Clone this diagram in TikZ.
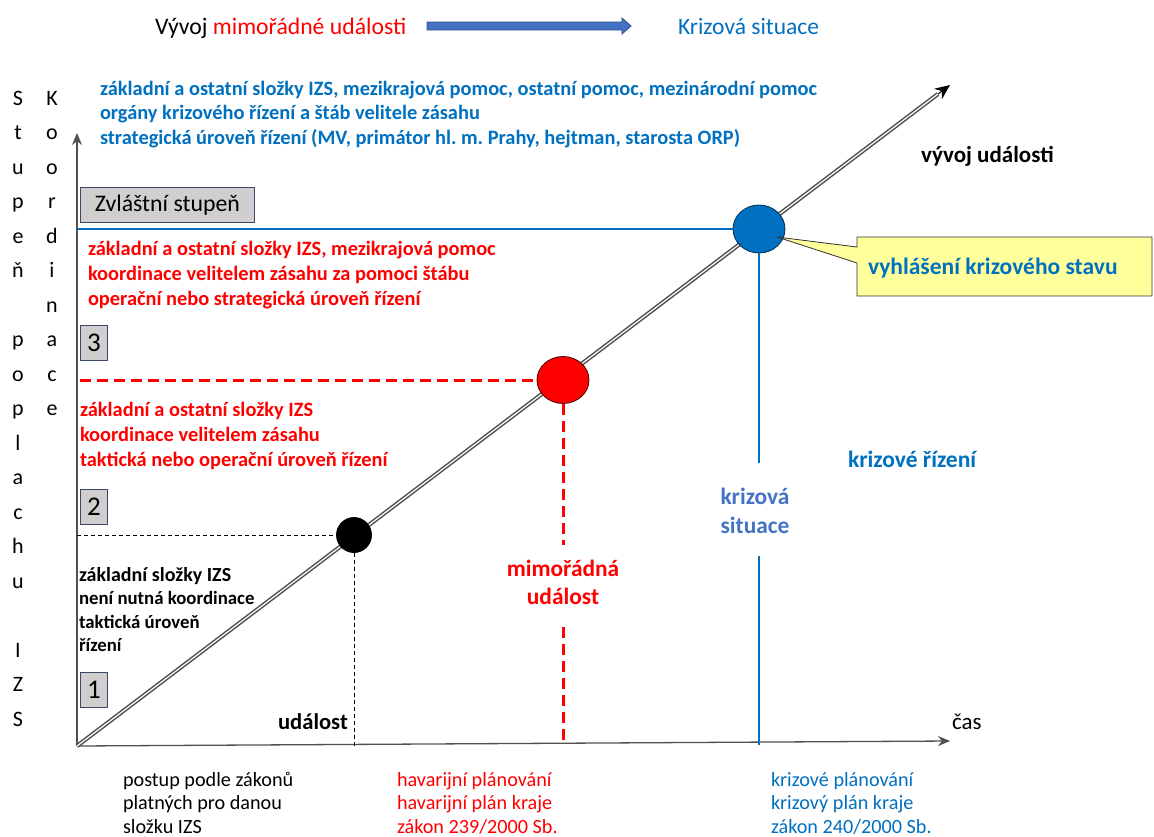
\documentclass[tikz,border=0pt]{standalone}
\usepackage{fontspec}
\setmainfont{Carlito}
\usetikzlibrary{arrows.meta,shapes.geometric}
\frenchspacing
\definecolor{msblue}{HTML}{0070C0}
\definecolor{lblue}{HTML}{4472C4}
\definecolor{msred}{HTML}{FF0000}
\definecolor{boxgray}{HTML}{D0CECE}
\definecolor{boxedge}{HTML}{3B4A6B}
\definecolor{callyellow}{HTML}{FFFF9C}
\definecolor{axisgray}{HTML}{505050}
\tikzset{
  txt/.style={anchor=base west, inner sep=0pt, outer sep=0pt},
  btxt/.style={txt, font=\fontsize{20.4}{24}\selectfont\bfseries},
  ctxt/.style={anchor=base, inner sep=0pt, outer sep=0pt},
  vlet/.style={ctxt, font=\fontsize{22}{26}\selectfont},
  reg/.style={txt, font=\fontsize{20.2}{24}\selectfont},
  lbl/.style={ctxt, font=\fontsize{23.4}{28}\selectfont\bfseries},
  lvlbox/.style={draw=boxedge, fill=boxgray, line width=0.9pt, inner sep=0pt, font=\fontsize{27}{30}\selectfont, minimum width=27pt, minimum height=35pt},
  axisline/.style={draw=axisgray, line width=1.3pt, -{Stealth[length=12pt,width=10pt]}},
  reddash/.style={draw=msred, line width=3pt, dash pattern=on 11pt off 6pt},
  blackdash/.style={draw=black, line width=1pt, dash pattern=on 4pt off 3pt},
  blueline/.style={draw=msblue, line width=2pt},
  circ/.style={ellipse, inner sep=0pt, line width=0.8pt},
}
\begin{document}
\begin{tikzpicture}[x=1pt,y=-1pt]
\useasboundingbox (0,0) rectangle (1154,836);
\fill[white] (0,0) rectangle (1154,836);

% title
\node[txt, font=\fontsize{23.7}{28}\selectfont] (title) at (155,34) {Vývoj \textcolor{msred}{mimořádné události}};
\draw[fill=lblue, draw=lblue!70!black, line width=0.8pt]
  (427,22) -- (622,22) -- (622,18) -- (631,26) -- (622,34) -- (622,30) -- (427,30) -- cycle;
\node[txt, font=\fontsize{23.5}{28}\selectfont, text=msblue] (krsit) at (678,34) {Krizová situace};

% vertical letters
\foreach \ch [count=\i from 0] in {S,t,u,p,e,ň,{},p,o,p,l,a,c,h,u,{},I,Z,S}
  \node[vlet] (s\i) at (18,105+34.5*\i) {\ch};
\foreach \ch [count=\i from 0] in {K,o,o,r,d,i,n,a,c,e}
  \node[vlet] (k\i) at (52,105+34.5*\i) {\ch};

% key coordinates
\coordinate (o) at (77,746);
\coordinate (ytop) at (77,133);
\coordinate (xend) at (950,741);
\coordinate (dtip) at (950,85);
\coordinate (dmid) at (938,94);

% blue top text
\node[btxt, text=msblue] (t1) at (100,95) {základní a ostatní složky IZS, mezikrajová pomoc, ostatní pomoc, mezinárodní pomoc};
\node[btxt, text=msblue] (t2) at (100,119.5) {orgány krizového řízení a štáb velitele zásahu};
\node[btxt, text=msblue] (t3) at (100,144) {strategická úroveň řízení (MV, primátor hl. m. Prahy, hejtman, starosta ORP)};
\node[txt, font=\fontsize{23}{27}\selectfont\bfseries] (vyv) at (921,162) {vývoj události};

% level boxes
\node[lvlbox, minimum width=174pt, anchor=north west, font=\fontsize{23.8}{28}\selectfont] (zvl) at (80,187) {Zvláštní stupeň};
\node[lvlbox, anchor=north west] (l3) at (80,325) {3};
\node[lvlbox, anchor=north west] (l2) at (80,489) {2};
\node[lvlbox, anchor=north west] (l1) at (80,672) {1};

% red texts
\node[btxt, text=msred] (r1) at (88,255) {základní a ostatní složky IZS, mezikrajová pomoc};
\node[btxt, text=msred] (r2) at (88,280) {koordinace velitelem zásahu za pomoci štábu};
\node[btxt, text=msred] (r3) at (88,305) {operační nebo strategická úroveň řízení};
\node[btxt, text=msred] (r4) at (80,416) {základní a ostatní složky IZS};
\node[btxt, text=msred] (r5) at (80,441) {koordinace velitelem zásahu};
\node[btxt, text=msred] (r6) at (80,466) {taktická nebo operační úroveň řízení};

% black texts
\node[txt, font=\fontsize{20}{24}\selectfont\bfseries] (z1) at (79,581) {základní složky IZS};
\node[txt, font=\fontsize{18.8}{22}\selectfont\bfseries] (z2) at (79,604) {není nutná koordinace};
\node[txt, font=\fontsize{18.8}{22}\selectfont\bfseries] (z3) at (79,628) {taktická úroveň};
\node[txt, font=\fontsize{18.8}{22}\selectfont\bfseries] (z4) at (79,651) {řízení};

% axes
\draw[axisline] (o) -- (ytop);
\draw[axisline] (o) -- (xend);

% diagonal double line
\draw[draw=axisgray, line width=1.5pt, double=white, double distance=1.2pt] (o) -- (dmid);
\draw[draw=black, line width=1pt, -{Stealth[length=15pt,width=13pt]}] (dmid) -- (dtip);

% circles
\node[circ, fill=black, draw=black, minimum width=35pt, minimum height=35pt] (ev) at (354,535) {};
\node[circ, fill=msred, draw=black!70!red, minimum width=52pt, minimum height=47pt] (mu) at (563,380) {};
\node[circ, fill=msblue, draw=black!60!msblue, minimum width=52pt, minimum height=48pt] (ks) at (759,229) {};

% guide lines
\coordinate (bl) at (77,229);
\coordinate (rl) at (80,380);
\coordinate (kl) at (77,535);
\coordinate (bv1) at (759,463);
\coordinate (bv2) at (759,556);
\coordinate (bv3) at (759,745);
\coordinate (rv1) at (563,545);
\coordinate (rv2) at (563,627);
\coordinate (rv3) at (563,746);
\coordinate (kv) at (354,746);

\draw[blueline] (bl) -- (ks.west);
\draw[blueline] (ks.south) -- (bv1);
\draw[blueline] (bv2) -- (bv3);
\draw[reddash] (rl) -- (mu.west);
\draw[reddash] (mu.south) -- (rv1);
\draw[reddash] (rv2) -- (rv3);
\draw[blackdash] (kl) -- (ev.west);
\draw[blackdash] (ev.south) -- (kv);

% callout
\coordinate (ctip) at (777,237);
\draw[fill=callyellow, draw=black!80, line width=0.8pt]
  (857,237) -- (1152,237) -- (1152,296) -- (857,296) -- (857,263) -- (ctip) -- (857,247) -- cycle;
\node[txt, font=\fontsize{23.5}{28}\selectfont\bfseries, text=msblue] (vk) at (868,274) {vyhlášení krizového stavu};

% middle labels
\node[lbl, text=msred] (mu1) at (563,576) {mimořádná};
\node[lbl, text=msred] (mu3) at (563,604) {událost};
\node[lbl, text=lblue] (ks3) at (755,504) {krizová};
\node[lbl, text=lblue] (ks4) at (755,533) {situace};
\node[txt, font=\fontsize{23.5}{28}\selectfont\bfseries, text=msblue] (kr) at (848,467) {krizové řízení};
\node[anchor=base east, inner sep=0pt, font=\fontsize{22.6}{26}\selectfont\bfseries] (ud) at (348,729) {událost};
\node[txt, font=\fontsize{23}{26}\selectfont] (cas) at (952,729) {čas};

% bottom texts
\node[reg] (p1) at (123,786) {postup podle zákonů};
\node[reg] (p2) at (123,809) {platných pro danou};
\node[reg] (p3) at (123,833) {složku IZS};
\node[reg, text=msred] (h1) at (397,786) {havarijní plánování};
\node[reg, text=msred] (h2) at (397,809) {havarijní plán kraje};
\node[reg, text=msred] (h3) at (397,833) {zákon 239/2000 Sb.};
\node[reg, text=msblue] (c1) at (771,786) {krizové plánování};
\node[reg, text=msblue] (c2) at (771,809) {krizový plán kraje};
\node[reg, text=msblue] (c3) at (771,833) {zákon 240/2000 Sb.};
\end{tikzpicture}
\end{document}
